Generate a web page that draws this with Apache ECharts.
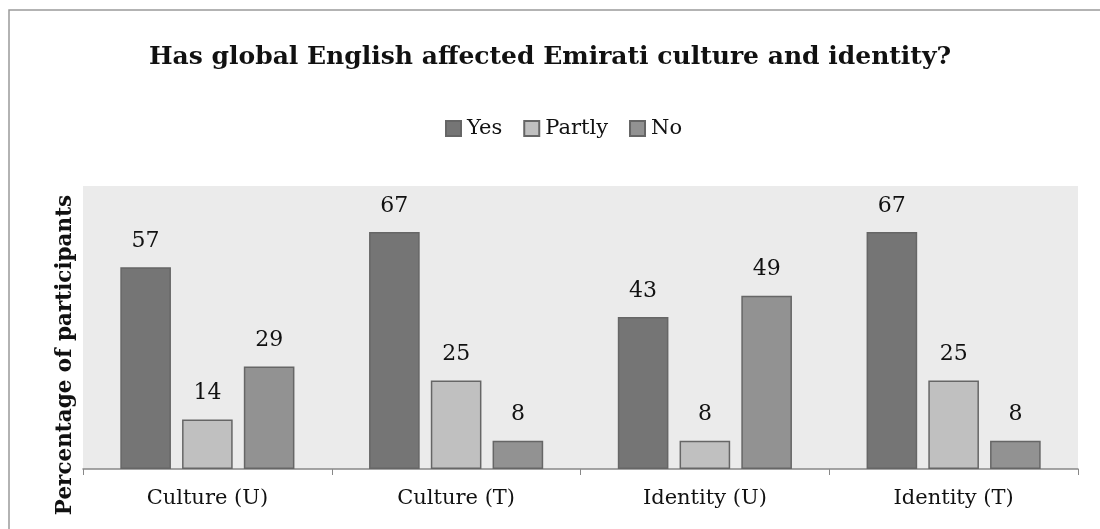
<!DOCTYPE html>
<html>
<head>
<meta charset="utf-8">
<script src="https://cdn.jsdelivr.net/npm/echarts@6/dist/echarts.min.js"></script>
<style>
  html, body { margin: 0; padding: 0; background: #fff; }
  #chart { width: 1100px; height: 529px; }
</style>
</head>
<body>
<div id="chart"></div>
<script>
const categories = ['Culture (U)', 'Culture (T)', 'Identity (U)', 'Identity (T)'];
const yesValues = [57, 67, 43, 67];
const partlyValues = [14, 25, 8, 25];
const noValues = [29, 8, 49, 8];

const chart = echarts.init(document.getElementById('chart'));
const font = 'DejaVu Serif, serif';

const label = {
  show: true,
  position: 'top',
  distance: 15,
  color: '#111',
  fontSize: 22,
  fontFamily: font
};

const makeSeries = (name, data, color) => ({
  name,
  type: 'bar',
  data,
  barGap: '22%',
  barCategoryGap: '30%',
  itemStyle: { color, borderColor: '#666', borderWidth: 1.5 },
  label
});

const option = {
  backgroundColor: '#fff',
  title: {
    text: 'Has global English affected Emirati culture and identity?',
    left: 'center',
    top: 40,
    textStyle: { fontFamily: font, fontWeight: 'bold', fontSize: 25, color: '#111' }
  },
  legend: {
    top: 113,
    left: 440,
    icon: 'rect',
    itemWidth: 15,
    itemHeight: 15,
    itemGap: 21,
    textStyle: { fontFamily: font, fontSize: 21, color: '#111', padding: [0, 0, 0, 1] },
    data: ['Yes', 'Partly', 'No']
  },
  grid: {
    left: 83,
    right: 22,
    top: 186,
    bottom: 60,
    show: true,
    backgroundColor: '#ebebeb',
    borderWidth: 0
  },
  xAxis: {
    type: 'category',
    data: categories,
    axisLine: { lineStyle: { color: '#888', width: 1.5 } },
    axisTick: { show: true, length: 6, lineStyle: { color: '#888' } },
    axisLabel: { fontFamily: font, fontSize: 21, color: '#111', margin: 19 }
  },
  yAxis: {
    type: 'value',
    min: 0,
    max: 80,
    axisLabel: { show: false },
    axisLine: { show: false },
    axisTick: { show: false },
    splitLine: { show: false }
  },
  graphic: [{
    type: 'rect',
    shape: { x: 9, y: 10, width: 1200, height: 600 },
    style: { fill: 'none', stroke: '#9a9a9a', lineWidth: 1.5 },
    silent: true
  }, {
    type: 'text',
    x: 65,
    y: 355,
    rotation: Math.PI / 2,
    style: {
      text: 'Percentage of participants',
      fontFamily: font,
      fontWeight: 'bold',
      fontSize: 21.5,
      fill: '#111',
      align: 'center',
      verticalAlign: 'middle'
    }
  }],
  series: [
    makeSeries('Yes', yesValues, '#757575'),
    makeSeries('Partly', partlyValues, '#c0c0c0'),
    makeSeries('No', noValues, '#929292')
  ]
};

chart.setOption(option);
</script>
</body>
</html>
